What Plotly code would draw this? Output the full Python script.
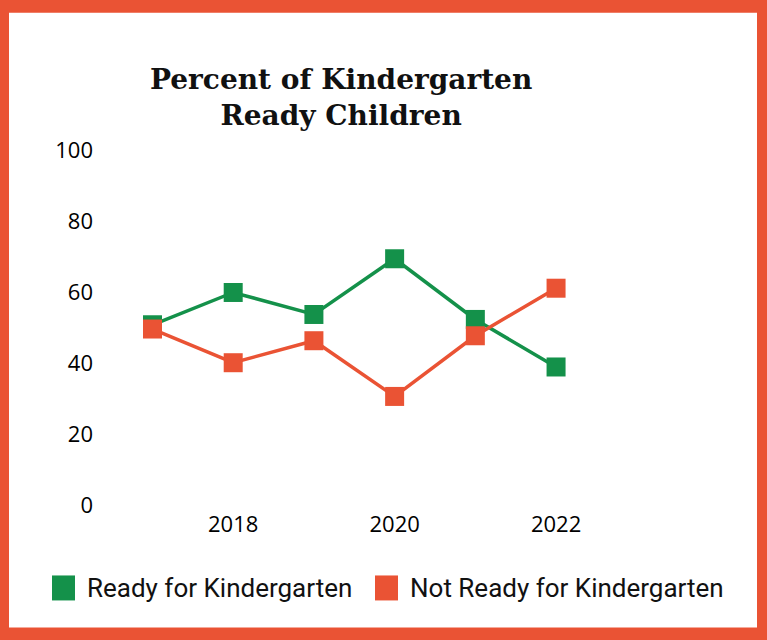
import plotly.graph_objects as go

years = [2017, 2018, 2019, 2020, 2021, 2022]
ready = [50.8, 59.9, 53.7, 69.4, 52.3, 38.9]
not_ready = [49.6, 40.1, 46.3, 30.6, 47.7, 61.1]
x_tick_vals = [2018, 2020, 2022]
y_tick_vals = [0, 20, 40, 60, 80, 100]
series_names = ["Ready for Kindergarten", "Not Ready for Kindergarten"]

GREEN = "#14914a"
ORANGE = "#ea5334"

W, H = 767, 640
L, R = 98, 640           # plot area left/right in px
T, B = 136.3, 505.5      # plot area top/bottom in px


def px_x(p):
    return (p - L) / (R - L)


def px_y(p):
    return (B - p) / (B - T)


fig = go.Figure()
fig.add_trace(go.Scatter(
    x=years, y=ready, mode="lines+markers", name=series_names[0],
    line=dict(color=GREEN, width=3.5),
    marker=dict(symbol="square", size=19, color=GREEN),
    showlegend=False,
))
fig.add_trace(go.Scatter(
    x=years, y=not_ready, mode="lines+markers", name=series_names[1],
    line=dict(color=ORANGE, width=3.5),
    marker=dict(symbol="square", size=19, color=ORANGE),
    showlegend=False,
))

shapes = [
    # white inner panel over orange frame
    dict(type="rect", xref="paper", yref="paper", layer="below",
         x0=px_x(9), x1=px_x(757), y0=px_y(628), y1=px_y(13),
         fillcolor="white", line=dict(width=0)),
    # legend squares
    dict(type="rect", xref="paper", yref="paper",
         x0=px_x(52), x1=px_x(75), y0=px_y(601), y1=px_y(576),
         fillcolor=GREEN, line=dict(width=0)),
    dict(type="rect", xref="paper", yref="paper",
         x0=px_x(375), x1=px_x(398), y0=px_y(601), y1=px_y(576),
         fillcolor=ORANGE, line=dict(width=0)),
]

legend_font = dict(family="Liberation Sans Narrow, Roboto, sans-serif", size=26, color="#111111")
annotations = [
    dict(text="<b>Percent of Kindergarten<br>Ready Children</b>", xref="paper", yref="paper",
         x=px_x(341), y=px_y(98), xanchor="center", yanchor="middle", showarrow=False,
         font=dict(family="DejaVu Serif, serif", size=28, color="#111111")),
    dict(text=series_names[0], xref="paper", yref="paper",
         x=px_x(85), y=px_y(589), xanchor="left", yanchor="middle", showarrow=False,
         font=legend_font),
    dict(text=series_names[1], xref="paper", yref="paper",
         x=px_x(408), y=px_y(589), xanchor="left", yanchor="middle", showarrow=False,
         font=legend_font),
]

tick_font = dict(family="Open Sans, sans-serif", size=22, color="#000000")
fig.update_layout(
    width=W, height=H,
    margin=dict(l=L, r=W - R, t=T, b=H - B, pad=0),
    paper_bgcolor=ORANGE,
    plot_bgcolor="rgba(0,0,0,0)",
    shapes=shapes,
    annotations=annotations,
    showlegend=False,
    xaxis=dict(range=[2016.325, 2023.04], tickvals=x_tick_vals, showgrid=False,
               zeroline=False, showline=False, ticks="", tickfont=tick_font,
               ticklabelstandoff=4),
    yaxis=dict(range=[0, 104], tickvals=y_tick_vals, showgrid=False,
               zeroline=False, showline=False, ticks="", tickfont=tick_font,
               ticklabelstandoff=4),
)

fig.write_html(
    "out.html",
    config={"displayModeBar": False},
    post_script="document.body.style.margin='0';document.body.style.overflow='hidden';",
)
